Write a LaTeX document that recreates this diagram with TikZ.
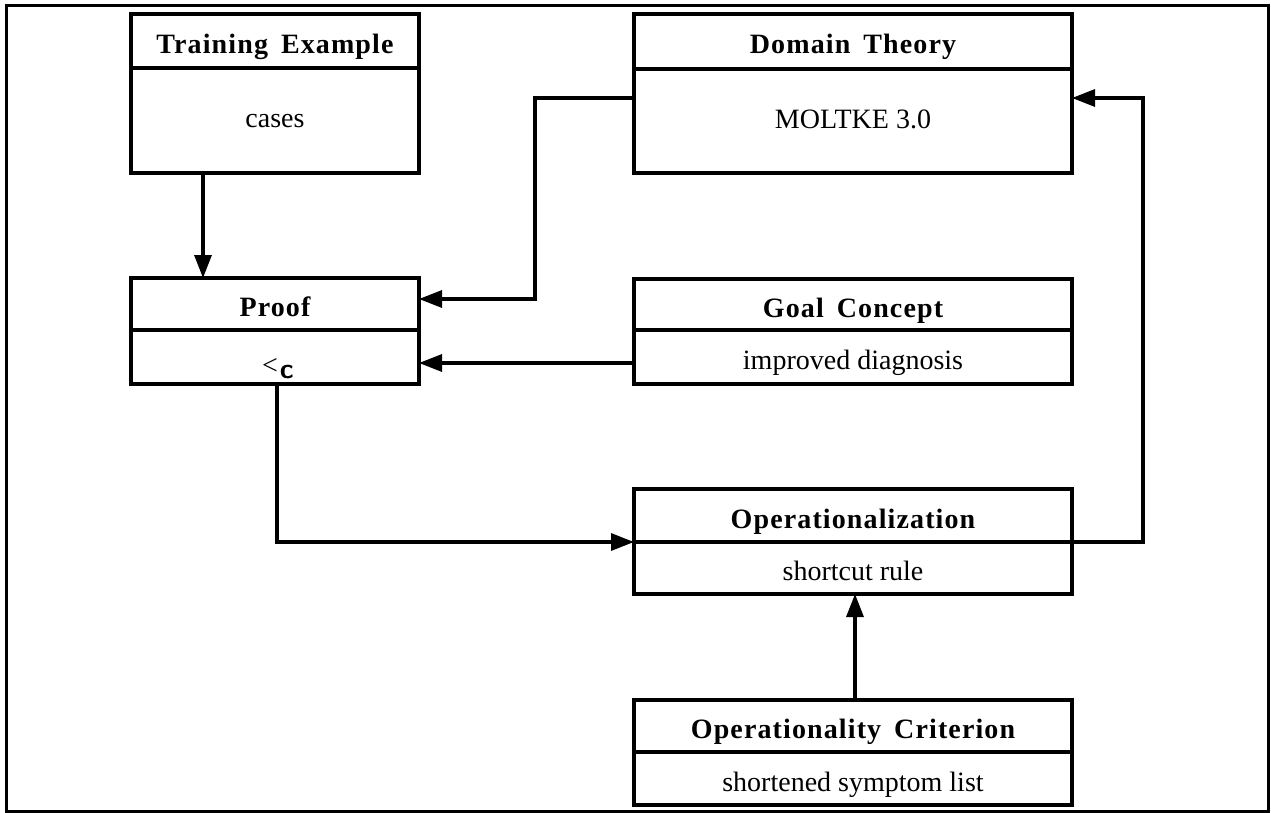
\documentclass[tikz,border=0pt]{standalone}
\usepackage{fontspec}
\setmainfont{Liberation Serif}
\newfontfamily\hdrfont[LetterSpace=4,WordSpace=1.6]{Liberation Serif}
\usetikzlibrary{arrows.meta}
\begin{document}
\begin{tikzpicture}[x=1pt,y=-1pt,
  box/.style={draw,line width=3.2pt,inner sep=0pt,outer sep=0pt,align=center,text depth=0pt,text height=25pt},
  hdr/.style={box,font=\hdrfont\bfseries\fontsize{28}{33}\selectfont},
  bdy/.style={box,font=\fontsize{28}{33}\selectfont},
  tall/.style={text height=15pt},
  conn/.style={line width=3.2pt,-{Triangle[length=23pt,width=17pt]}}]
\useasboundingbox (0,0) rectangle (1271,813);
\draw[line width=3pt] (6,6) rectangle (1268,811);
% Training Example
\node[hdr,minimum width=288pt,minimum height=54pt] (teh) at (275,41) {Training Example};
\node[bdy,tall,minimum width=288pt,minimum height=105pt] (teb) at (275,120.5) {cases};
% Domain Theory
\node[hdr,minimum width=438pt,minimum height=55pt] (dth) at (853,41.5) {Domain Theory};
\node[bdy,tall,minimum width=438pt,minimum height=104pt] (dtb) at (853,121) {MOLTKE 3.0};
% Proof
\node[hdr,minimum width=288pt,minimum height=52pt] (prh) at (275,304) {Proof};
\node[bdy,minimum width=288pt,minimum height=54pt] (prb) at (275,357) {};
\node[font=\fontsize{28}{33}\selectfont,inner sep=0pt,anchor=base west] (lt) at (262,374) {<\kern2pt\raisebox{-4pt}{\sffamily\bfseries c}};
% Goal Concept
\node[hdr,minimum width=438pt,minimum height=51pt] (gch) at (853,304.5) {Goal Concept};
\node[bdy,minimum width=438pt,minimum height=54pt] (gcb) at (853,357) {improved diagnosis};
% Operationalization
\node[hdr,minimum width=438pt,minimum height=53pt] (oph) at (853,515.5) {Operationalization};
\node[bdy,minimum width=438pt,minimum height=52pt] (opb) at (853,568) {shortcut rule};
% Operationality Criterion
\node[hdr,minimum width=438pt,minimum height=52pt] (och) at (853,726) {Operationality Criterion};
\node[bdy,minimum width=438pt,minimum height=53pt] (ocb) at (853,778.5) {shortened symptom list};
% bend points
\coordinate (k1) at (535,98);
\coordinate (k2) at (535,299);
\coordinate (k3) at (1143,98);
% connectors
\draw[conn] ([xshift=-72pt]teb.south) -- ([xshift=-72pt]prh.north);
\draw[conn] (dtb.west |- k1) -- (k1) -- (k2) -- (prh.east |- k2);
\draw[conn] ([yshift=-6pt]gcb.west) -- ([yshift=-6pt]prb.east);
\draw[conn] ([xshift=2pt]prb.south) |- (oph.south west);
\draw[conn] (oph.south east) -| (k3) -- (dtb.east |- k3);
\draw[conn] ([xshift=2pt]och.north) -- ([xshift=2pt]opb.south);
\end{tikzpicture}
\end{document}
